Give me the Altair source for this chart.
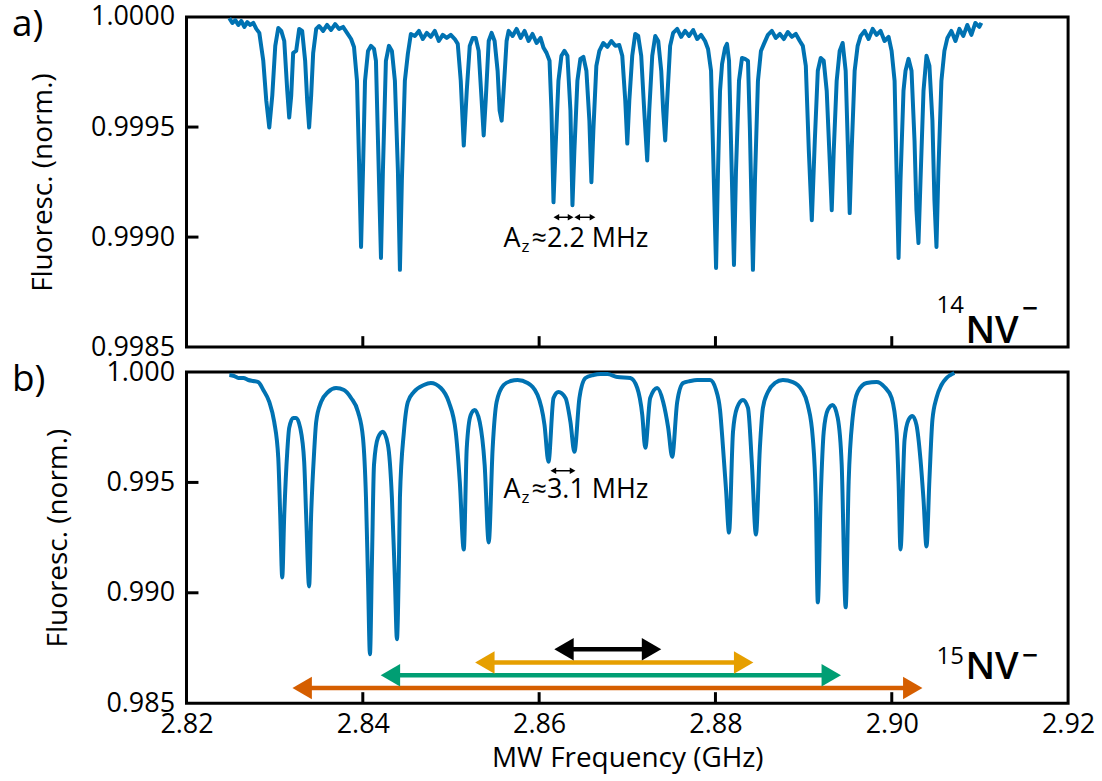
import altair as alt
import pandas as pd

# ---------------- data ----------------
top_freq = [2.82486, 2.82520, 2.82554, 2.82588, 2.82622, 2.82656, 2.82690, 2.82724, 2.82758, 2.82792,
            2.82826, 2.82871, 2.82905, 2.82939, 2.82973, 2.83007, 2.83041, 2.83075, 2.83109, 2.83143,
            2.83165, 2.83188, 2.83210, 2.83244, 2.83278, 2.83312, 2.83346, 2.83369, 2.83391, 2.83414,
            2.83437, 2.83471, 2.83505, 2.83550, 2.83595, 2.83640, 2.83686, 2.83731, 2.83776, 2.83821,
            2.83867, 2.83900, 2.83934, 2.83957, 2.83980, 2.84002, 2.84025, 2.84059, 2.84093, 2.84127,
            2.84149, 2.84172, 2.84206, 2.84228, 2.84262, 2.84296, 2.84330, 2.84364, 2.84398, 2.84421,
            2.84443, 2.84477, 2.84511, 2.84545, 2.84590, 2.84636, 2.84681, 2.84726, 2.84771, 2.84817,
            2.84862, 2.84907, 2.84952, 2.84998, 2.85043, 2.85077, 2.85111, 2.85145, 2.85179, 2.85213,
            2.85247, 2.85280, 2.85314, 2.85348, 2.85371, 2.85394, 2.85428, 2.85461, 2.85495, 2.85529,
            2.85552, 2.85575, 2.85597, 2.85631, 2.85654, 2.85699, 2.85744, 2.85790, 2.85835, 2.85880,
            2.85925, 2.85971, 2.86016, 2.86050, 2.86084, 2.86118, 2.86140, 2.86163, 2.86185, 2.86219,
            2.86253, 2.86287, 2.86321, 2.86355, 2.86378, 2.86400, 2.86434, 2.86468, 2.86502, 2.86536,
            2.86570, 2.86593, 2.86615, 2.86649, 2.86683, 2.86728, 2.86774, 2.86819, 2.86864, 2.86909,
            2.86943, 2.86977, 2.87000, 2.87023, 2.87056, 2.87090, 2.87124, 2.87158, 2.87192, 2.87226,
            2.87249, 2.87283, 2.87317, 2.87351, 2.87385, 2.87407, 2.87430, 2.87452, 2.87486, 2.87520,
            2.87566, 2.87611, 2.87656, 2.87701, 2.87747, 2.87792, 2.87837, 2.87882, 2.87916, 2.87950,
            2.87973, 2.88007, 2.88029, 2.88052, 2.88075, 2.88109, 2.88131, 2.88154, 2.88176, 2.88210,
            2.88233, 2.88267, 2.88301, 2.88335, 2.88369, 2.88391, 2.88425, 2.88448, 2.88482, 2.88516,
            2.88550, 2.88595, 2.88640, 2.88685, 2.88731, 2.88776, 2.88821, 2.88866, 2.88912, 2.88957,
            2.88991, 2.89025, 2.89059, 2.89093, 2.89127, 2.89161, 2.89194, 2.89228, 2.89262, 2.89296,
            2.89319, 2.89342, 2.89375, 2.89409, 2.89443, 2.89477, 2.89500, 2.89523, 2.89545, 2.89579,
            2.89613, 2.89647, 2.89692, 2.89737, 2.89783, 2.89828, 2.89873, 2.89918, 2.89964, 2.89998,
            2.90032, 2.90054, 2.90077, 2.90099, 2.90133, 2.90156, 2.90190, 2.90224, 2.90258, 2.90280,
            2.90303, 2.90326, 2.90360, 2.90394, 2.90427, 2.90461, 2.90484, 2.90507, 2.90529, 2.90563,
            2.90597, 2.90631, 2.90676, 2.90722, 2.90767, 2.90812, 2.90857, 2.90903, 2.90948, 2.90993,
            2.91016]
top_fluor = [0.999995, 0.999973, 0.999986, 0.999964, 0.999982, 0.999955, 0.999977, 0.999964, 0.999973, 0.999946,
             0.999928, 0.999801, 0.999620, 0.999498, 0.999643, 0.999869, 0.999950, 0.999937, 0.999891, 0.999665,
             0.999543, 0.999643, 0.999837, 0.999846, 0.999946, 0.999937, 0.999801, 0.999620, 0.999498, 0.999643,
             0.999837, 0.999946, 0.999959, 0.999937, 0.999964, 0.999941, 0.999968, 0.999946, 0.999955, 0.999928,
             0.999900, 0.999864, 0.999710, 0.999348, 0.998955, 0.999303, 0.999710, 0.999846, 0.999869, 0.999855,
             0.999801, 0.999439, 0.998905, 0.999303, 0.999801, 0.999869, 0.999846, 0.999710, 0.999303, 0.998851,
             0.999258, 0.999710, 0.999833, 0.999923, 0.999914, 0.999937, 0.999900, 0.999928, 0.999910, 0.999937,
             0.999891, 0.999919, 0.999905, 0.999919, 0.999900, 0.999878, 0.999710, 0.999416, 0.999665, 0.999869,
             0.999905, 0.999905, 0.999846, 0.999620, 0.999462, 0.999620, 0.999891, 0.999928, 0.999891, 0.999756,
             0.999575, 0.999529, 0.999665, 0.999891, 0.999937, 0.999914, 0.999946, 0.999905, 0.999937, 0.999891,
             0.999923, 0.999882, 0.999905, 0.999860, 0.999837, 0.999801, 0.999575, 0.999158, 0.999394, 0.999710,
             0.999824, 0.999846, 0.999824, 0.999575, 0.999145, 0.999394, 0.999710, 0.999810, 0.999819, 0.999756,
             0.999529, 0.999249, 0.999484, 0.999778, 0.999846, 0.999882, 0.999864, 0.999891, 0.999869, 0.999873,
             0.999824, 0.999620, 0.999425, 0.999620, 0.999824, 0.999923, 0.999914, 0.999824, 0.999575, 0.999348,
             0.999575, 0.999824, 0.999914, 0.999891, 0.999756, 0.999575, 0.999439, 0.999620, 0.999869, 0.999928,
             0.999946, 0.999910, 0.999937, 0.999914, 0.999941, 0.999900, 0.999919, 0.999891, 0.999855, 0.999756,
             0.999394, 0.998860, 0.999303, 0.999665, 0.999787, 0.999860, 0.999878, 0.999801, 0.999439, 0.998873,
             0.999303, 0.999710, 0.999814, 0.999810, 0.999801, 0.999484, 0.998851, 0.999258, 0.999710, 0.999846,
             0.999878, 0.999919, 0.999937, 0.999905, 0.999923, 0.999900, 0.999932, 0.999910, 0.999923, 0.999891,
             0.999869, 0.999778, 0.999394, 0.999077, 0.999439, 0.999756, 0.999814, 0.999801, 0.999665, 0.999348,
             0.999122, 0.999394, 0.999710, 0.999846, 0.999882, 0.999756, 0.999439, 0.999109, 0.999394, 0.999756,
             0.999869, 0.999914, 0.999937, 0.999900, 0.999946, 0.999919, 0.999937, 0.999891, 0.999910, 0.999846,
             0.999710, 0.999303, 0.998905, 0.999258, 0.999665, 0.999756, 0.999810, 0.999756, 0.999439, 0.999122,
             0.998973, 0.999258, 0.999665, 0.999824, 0.999778, 0.999529, 0.999167, 0.998955, 0.999303, 0.999710,
             0.999846, 0.999905, 0.999937, 0.999891, 0.999946, 0.999914, 0.999964, 0.999919, 0.999973, 0.999955,
             0.999973]

bot_freq = [2.82486, 2.82543, 2.82588, 2.82645, 2.82701, 2.82758, 2.82814, 2.82871, 2.82939, 2.82995,
            2.83041, 2.83063, 2.83086, 2.83109, 2.83143, 2.83165, 2.83210, 2.83244, 2.83290, 2.83335,
            2.83357, 2.83391, 2.83414, 2.83448, 2.83471, 2.83527, 2.83606, 2.83697, 2.83787, 2.83867,
            2.83946, 2.84002, 2.84036, 2.84059, 2.84081, 2.84104, 2.84127, 2.84172, 2.84228, 2.84285,
            2.84330, 2.84364, 2.84387, 2.84410, 2.84421, 2.84466, 2.84511, 2.84579, 2.84692, 2.84771,
            2.84885, 2.84975, 2.85054, 2.85100, 2.85145, 2.85179, 2.85224, 2.85269, 2.85326, 2.85382,
            2.85428, 2.85473, 2.85518, 2.85597, 2.85676, 2.85756, 2.85869, 2.85982, 2.86061, 2.86106,
            2.86163, 2.86219, 2.86299, 2.86355, 2.86400, 2.86457, 2.86525, 2.86615, 2.86695, 2.86774,
            2.86887, 2.87034, 2.87113, 2.87170, 2.87204, 2.87260, 2.87339, 2.87407, 2.87464, 2.87509,
            2.87566, 2.87633, 2.87713, 2.87792, 2.87939, 2.88007, 2.88052, 2.88086, 2.88120, 2.88154,
            2.88199, 2.88244, 2.88312, 2.88369, 2.88414, 2.88459, 2.88504, 2.88538, 2.88595, 2.88674,
            2.88765, 2.88878, 2.88980, 2.89047, 2.89104, 2.89138, 2.89161, 2.89194, 2.89228, 2.89274,
            2.89330, 2.89387, 2.89432, 2.89477, 2.89511, 2.89556, 2.89613, 2.89715, 2.89828, 2.89918,
            2.89998, 2.90054, 2.90077, 2.90099, 2.90145, 2.90190, 2.90235, 2.90280, 2.90326, 2.90360,
            2.90394, 2.90427, 2.90461, 2.90507, 2.90563, 2.90620, 2.90665, 2.90710]
bot_fluor = [0.999865, 0.999819, 0.999729, 0.999729, 0.999639, 0.999593, 0.999548, 0.999187, 0.998645, 0.997742,
             0.996116, 0.993541, 0.990696, 0.993541, 0.996387, 0.997471, 0.997922, 0.997922, 0.997471, 0.995935,
             0.993541, 0.990289, 0.993541, 0.996387, 0.997742, 0.998645, 0.999097, 0.999277, 0.999187, 0.998826,
             0.998193, 0.997019, 0.994309, 0.990605, 0.987218, 0.991509, 0.995800, 0.997019, 0.997290, 0.996703,
             0.994309, 0.990605, 0.987895, 0.991509, 0.994309, 0.997290, 0.998645, 0.999097, 0.999413, 0.999503,
             0.999277, 0.998645, 0.997290, 0.995032, 0.991960, 0.996567, 0.998058, 0.998284, 0.997742, 0.995800,
             0.992276, 0.996567, 0.998645, 0.999413, 0.999593, 0.999639, 0.999503, 0.998961, 0.997606, 0.995935,
             0.998826, 0.999097, 0.998826, 0.997742, 0.996387, 0.998826, 0.999729, 0.999865, 0.999910, 0.999910,
             0.999774, 0.999729, 0.999277, 0.998058, 0.996567, 0.998826, 0.999277, 0.998645, 0.997471, 0.996161,
             0.998645, 0.999503, 0.999593, 0.999639, 0.999639, 0.999187, 0.998284, 0.996567, 0.994670, 0.992728,
             0.997290, 0.998374, 0.998735, 0.998374, 0.995800, 0.992638, 0.996567, 0.998374, 0.999097, 0.999503,
             0.999639, 0.999548, 0.999187, 0.998510, 0.997019, 0.994309, 0.989566, 0.994309, 0.997290, 0.998284,
             0.998510, 0.997922, 0.995800, 0.989341, 0.995032, 0.997922, 0.999097, 0.999503, 0.999548, 0.999323,
             0.998826, 0.997290, 0.995032, 0.991960, 0.996929, 0.997832, 0.998013, 0.997606, 0.996025, 0.994219,
             0.992096, 0.995122, 0.997832, 0.998826, 0.999413, 0.999729, 0.999865, 0.999955]

x_tick_labels = [2.82, 2.84, 2.86, 2.88, 2.90, 2.92]
x_inner_ticks = [2.84, 2.86, 2.88, 2.90]
top_y_ticks = [0.9985, 0.9990, 0.9995, 1.0000]
top_y_inner = [0.9990, 0.9995]
bot_y_ticks = [0.985, 0.990, 0.995, 1.000]
bot_y_inner = [0.990, 0.995]

# coloured double arrows in panel b
arrow_start = [2.86172, 2.85274, 2.84203, 2.83202]
arrow_end = [2.87385, 2.88430, 2.89424, 2.90348]
arrow_level = [0.987444, 0.986843, 0.986269, 0.985682]
arrow_colors = ["#000000", "#E69F00", "#009E73", "#D55E00"]

# hyperfine splitting markers
top_split_start = [2.86163, 2.86400]
top_split_end = [2.86389, 2.86638]
top_split_level = [0.999090, 0.999090]
bot_split_start = [2.86129]
bot_split_end = [2.86412]
bot_split_level = [0.995528]

# annotation anchors (left edge, baseline) in data coordinates
az_x = [2.85597, 2.85801, 2.85914]
az_top_y = [0.998955, 0.998932, 0.998955]
az_bot_y = [0.994309, 0.994083, 0.994309]
az_top_text = ["A", "z", "\u22482.2 MHz"]
az_bot_text = ["A", "z", "\u22483.1 MHz"]

iso_x = [2.90507, 2.90835, 2.91480]
iso_top_y = [0.998656, 0.998520, 0.998633]
iso_bot_y = [0.986766, 0.986089, 0.986721]
iso_top_text = ["14", "NV", "\u2212"]
iso_bot_text = ["15", "NV", "\u2212"]
iso_weight = ["normal", "bold", "bold"]

panel_label_x = 2.80020
panel_label_top_y = 0.999914
panel_label_bot_y = 0.999142

FONT = "Open Sans"
W = 884
H_TOP = 331
H_BOT = 332
BLUE = "#0072B2"


def xenc(show):
    scale = alt.Scale(domain=[2.82, 2.92], nice=False, zero=False)
    if show:
        axis = alt.Axis(values=x_tick_labels, format=".2f", ticks=False, domain=False, grid=False,
                        labelFlush=False, labelPadding=8, title="MW Frequency (GHz)", titlePadding=8)
    else:
        axis = None
    return alt.X("f:Q", scale=scale, axis=axis)


def yenc(domain, ticks, fmt):
    return alt.Y("v:Q", scale=alt.Scale(domain=domain, nice=False, zero=False),
                 axis=alt.Axis(values=ticks, format=fmt, ticks=False, domain=False, grid=False,
                               labelFlush=False, labelPadding=12, title="Fluoresc. (norm.)",
                               titlePadding=33))


def text_layer(df, X, Y, weight):
    return alt.Chart(df).mark_text(align="left", baseline="alphabetic", font=FONT, color="black",
                                   fontWeight=weight).encode(
        x=X, y=Y, text="t:N", size=alt.Size("s:Q", scale=None))


def panel(freq, fl, domain, yticks, yinner, fmt, show_x, height, interp,
          split_s, split_e, split_l, az_y, az_text, iso_y, iso_text, label, label_y):
    X = xenc(show_x)
    Y = yenc(domain, yticks, fmt)
    line = alt.Chart(pd.DataFrame({"f": freq, "v": fl})).mark_line(
        color=BLUE, strokeWidth=4, strokeJoin="round", interpolate=interp).encode(x=X, y=Y)
    yt = alt.Chart(pd.DataFrame({"v": yinner})).mark_rule(color="black", strokeWidth=3).encode(
        y=Y, x=alt.value(0), x2=alt.value(12))
    xt = alt.Chart(pd.DataFrame({"f": x_inner_ticks})).mark_rule(color="black", strokeWidth=3).encode(
        x=X, y=alt.value(height), y2=alt.value(height - 11))
    sp = pd.DataFrame({"f": split_s, "f2": split_e, "v": split_l})
    sp_rule = alt.Chart(sp).mark_rule(color="black", strokeWidth=1.5, xOffset=3, x2Offset=-3).encode(
        x=X, x2="f2:Q", y=Y)
    sp_l = alt.Chart(sp).mark_point(shape="M0,0L1.9,-1.1L1.9,1.1Z", filled=True, color="black",
                                    opacity=1, size=36).encode(x=X, y=Y)
    sp_r = alt.Chart(sp.assign(f=sp["f2"])).mark_point(shape="M0,0L-1.9,-1.1L-1.9,1.1Z", filled=True,
                                                        color="black", opacity=1, size=36).encode(x=X, y=Y)
    azdf = pd.DataFrame({"f": az_x, "v": az_y, "t": az_text, "s": [27, 17, 27]})
    az = text_layer(azdf, X, Y, "normal")
    isodf = pd.DataFrame({"f": iso_x, "v": iso_y, "t": iso_text, "s": [24, 38, 28], "w": iso_weight})
    iso_sup = text_layer(isodf[isodf["w"] == "normal"], X, Y, "normal")
    iso_main = text_layer(isodf[isodf["w"] == "bold"], X, Y, 600)
    lab = alt.Chart(pd.DataFrame({"f": [panel_label_x], "v": [label_y], "t": [label]})).mark_text(
        align="left", baseline="alphabetic", font=FONT, fontSize=37, color="black").encode(
        x=X, y=Y, text="t:N")
    layers = [line, yt, xt, sp_rule, sp_l, sp_r, az, iso_sup, iso_main, lab]
    if not show_x:
        return alt.layer(*layers).properties(width=W, height=height)
    ar = pd.DataFrame({"f": arrow_start, "f2": arrow_end, "v": arrow_level, "c": arrow_colors})
    ar_rule = alt.Chart(ar).mark_rule(strokeWidth=4.5, xOffset=12, x2Offset=-12).encode(
        x=X, x2="f2:Q", y=Y, color=alt.Color("c:N", scale=None))
    ar_l = alt.Chart(ar).mark_point(shape="M0,0L1.9,-1.1L1.9,1.1Z", filled=True, opacity=1, size=420).encode(
        x=X, y=Y, color=alt.Color("c:N", scale=None))
    ar_r = alt.Chart(ar.assign(f=ar["f2"])).mark_point(shape="M0,0L-1.9,-1.1L-1.9,1.1Z", filled=True,
                                                        opacity=1, size=420).encode(
        x=X, y=Y, color=alt.Color("c:N", scale=None))
    layers += [ar_rule, ar_l, ar_r]
    return alt.layer(*layers).properties(width=W, height=height)


top = panel(top_freq, top_fluor, [0.9985, 1.0], top_y_ticks, top_y_inner, ".4f", False, H_TOP, "linear",
            top_split_start, top_split_end, top_split_level, az_top_y, az_top_text,
            iso_top_y, iso_top_text, "a)", panel_label_top_y)
bottom = panel(bot_freq, bot_fluor, [0.985, 1.0], bot_y_ticks, bot_y_inner, ".3f", True, H_BOT, "monotone",
               bot_split_start, bot_split_end, bot_split_level, az_bot_y, az_bot_text,
               iso_bot_y, iso_bot_text, "b)", panel_label_bot_y)

chart = alt.vconcat(top, bottom, spacing=25, bounds="flush").configure_view(
    stroke="black", strokeWidth=3
).configure_axis(
    labelFont=FONT, titleFont=FONT, labelFontSize=27, titleFontSize=28,
    labelColor="black", titleColor="black", titleFontWeight="normal"
).properties(padding={"left": 10, "top": 0, "right": 5, "bottom": 5}, background="white")

chart.save("out.html", embed_options={"renderer": "svg", "actions": False})
